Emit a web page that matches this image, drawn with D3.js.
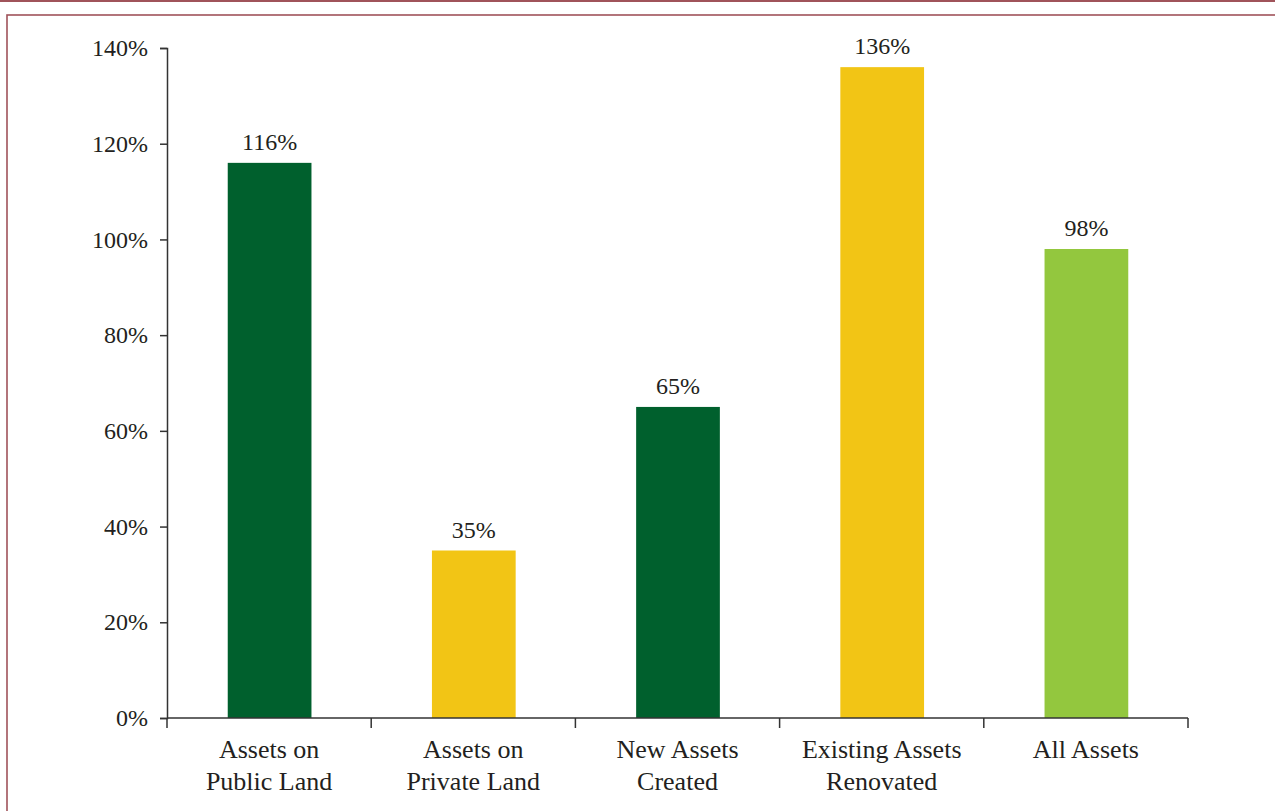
<!DOCTYPE html>
<html><head><meta charset="utf-8">
<script src="https://cdn.jsdelivr.net/npm/d3@7"></script>
<style>body{margin:0;background:#fff}svg{display:block}</style>
</head><body><svg id="c" width="1275" height="811"></svg>
<script>
const categories = [["Assets on","Public Land"],["Assets on","Private Land"],["New Assets","Created"],["Existing Assets","Renovated"],["All Assets"]];
const values = [116, 35, 65, 136, 98];
const barColors = ["#00602d","#f2c515","#00602d","#f2c515","#93c73e"];
const yTicks = [0,20,40,60,80,100,120,140];

(function(){
const svg = d3.select("#c");
const font = "'Liberation Serif', 'DejaVu Serif', serif";
// frame
svg.append("rect").attr("x",0).attr("y",0).attr("width",1275).attr("height",2).attr("fill","#a0535a");
svg.append("rect").attr("x",7).attr("y",15).attr("width",1300).attr("height",820).attr("fill","none").attr("stroke","#a0535a").attr("stroke-width",1.6);

const mLeft=167,mRight=1188,mTop=48,mBottom=718;
const x = d3.scaleBand().domain(d3.range(categories.length)).range([mLeft,mRight]).padding(0);
const y = d3.scaleLinear().domain([0,140]).range([mBottom,mTop]);

const bw = x.bandwidth()*0.41;
svg.selectAll("rect.bar").data(values).enter().append("rect").attr("class","bar")
  .attr("x",(d,i)=>x(i)+x.bandwidth()/2-bw/2+0.5).attr("width",bw)
  .attr("y",d=>y(d)).attr("height",d=>y(0)-y(d)).attr("fill",(d,i)=>barColors[i]);

svg.selectAll("text.val").data(values).enter().append("text").attr("class","val")
  .attr("x",(d,i)=>x(i)+x.bandwidth()/2+0.5).attr("y",d=>y(d)-13)
  .attr("text-anchor","middle").attr("font-family",font).attr("font-size",24).attr("fill","#231f20")
  .text(d=>d+"%");

// y axis
const ya = svg.append("g").attr("transform",`translate(${mLeft},0)`)
  .call(d3.axisLeft(y).tickValues(yTicks).tickFormat(d=>d+"%").tickSize(7).tickSizeOuter(7).tickPadding(12));
ya.selectAll("text").attr("font-family",font).attr("font-size",24).attr("fill","#231f20");
ya.selectAll("line,path").attr("stroke","#333").attr("stroke-width",1.5);

// x axis
const xa = svg.append("g").attr("transform",`translate(0,${mBottom})`);
xa.append("line").attr("x1",mLeft).attr("x2",mRight).attr("stroke","#333").attr("stroke-width",1.5);
const bounds = d3.range(categories.length+1).map(i=> i<categories.length ? x(i) : x(i-1)+x.bandwidth());
xa.selectAll("line.t").data(bounds).enter().append("line").attr("class","t")
  .attr("x1",d=>d).attr("x2",d=>d).attr("y1",0).attr("y2",10).attr("stroke","#333").attr("stroke-width",1.5);
categories.forEach((lines,i)=>{
  const t = xa.append("text").attr("text-anchor","middle").attr("font-family",font).attr("font-size",26).attr("fill","#231f20");
  lines.forEach((l,j)=>t.append("tspan").attr("x",x(i)+x.bandwidth()/2).attr("y",40+j*32).text(l));
});
})();
</script></body></html>
